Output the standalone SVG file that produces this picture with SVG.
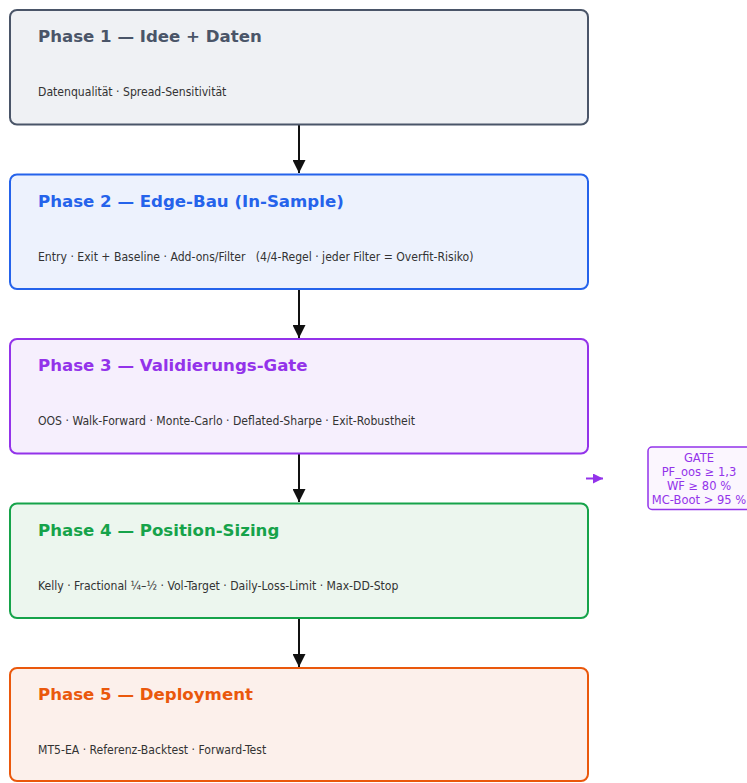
<svg xmlns="http://www.w3.org/2000/svg" width="747" height="783" viewBox="0 0 747 783">
<defs>
<style>
.box{stroke-width:2}
.t{font-family:"DejaVu Sans",sans-serif;font-weight:bold;font-size:16.6px}
.s{font-family:"DejaVu Sans Condensed","DejaVu Sans",sans-serif;font-stretch:condensed;font-size:12.1px;fill:#333}
.g{font-family:"DejaVu Sans",sans-serif;font-size:11.5px;fill:#9333ea;text-anchor:middle}
.c{stroke:#111;stroke-width:2;fill:none}
</style>
<marker id="ah" viewBox="0 0 10 10" refX="10" refY="5" markerWidth="13" markerHeight="13" markerUnits="userSpaceOnUse" orient="auto">
<path d="M0,0 L10,5 L0,10 z" fill="#111"/>
</marker>
<marker id="ahp" viewBox="0 0 10 10" refX="10" refY="5" markerWidth="10" markerHeight="10" markerUnits="userSpaceOnUse" orient="auto">
<path d="M0,0 L10,5 L0,10 z" fill="#9333ea"/>
</marker>
</defs>
<rect width="747" height="783" fill="#fff"/>
<g id="connectors">
<line class="c" x1="299" y1="125" x2="299" y2="173" marker-end="url(#ah)"/>
<line class="c" x1="299" y1="290" x2="299" y2="338" marker-end="url(#ah)"/>
<line class="c" x1="299" y1="454" x2="299" y2="502" marker-end="url(#ah)"/>
<line class="c" x1="299" y1="619" x2="299" y2="667" marker-end="url(#ah)"/>
<line x1="586" y1="478.5" x2="603" y2="478.5" stroke="#9333ea" stroke-width="2" marker-end="url(#ahp)"/>
</g>
<g id="phase1">
<rect class="box" x="10" y="10" width="578" height="114.5" rx="7" fill="#eff1f4" stroke="#4a5568"/>
<text class="t" x="38" y="42" fill="#4a5568">Phase 1 — Idee + Daten</text>
<text class="s" x="38" y="96">Datenqualität · Spread-Sensitivität</text>
</g>
<g id="phase2">
<rect class="box" x="10" y="174.5" width="578" height="114.5" rx="7" fill="#edf2fd" stroke="#2563eb"/>
<text class="t" x="38" y="207" fill="#2563eb">Phase 2 — Edge-Bau (In-Sample)</text>
<text class="s" x="38" y="261" xml:space="preserve">Entry · Exit + Baseline · Add-ons/Filter   (4/4-Regel · jeder Filter = Overfit-Risiko)</text>
</g>
<g id="phase3">
<rect class="box" x="10" y="339" width="578" height="114.5" rx="7" fill="#f6effd" stroke="#9333ea"/>
<text class="t" x="38" y="371" fill="#9333ea">Phase 3 — Validierungs-Gate</text>
<text class="s" x="38" y="425">OOS · Walk-Forward · Monte-Carlo · Deflated-Sharpe · Exit-Robustheit</text>
</g>
<g id="phase4">
<rect class="box" x="10" y="503.5" width="578" height="114.5" rx="7" fill="#ecf6ee" stroke="#16a34a"/>
<text class="t" x="38" y="536" fill="#16a34a">Phase 4 — Position-Sizing</text>
<text class="s" x="38" y="590">Kelly · Fractional ¼–½ · Vol-Target · Daily-Loss-Limit · Max-DD-Stop</text>
</g>
<g id="phase5">
<rect class="box" x="10" y="668" width="578" height="113" rx="7" fill="#fcf0eb" stroke="#ea580c"/>
<text class="t" x="38" y="700" fill="#ea580c">Phase 5 — Deployment</text>
<text class="s" x="38" y="754">MT5-EA · Referenz-Backtest · Forward-Test</text>
</g>
<g id="gate">
<rect x="648" y="447" width="106" height="62.5" rx="4" fill="#fbf6fe" stroke="#9333ea" stroke-width="1.5"/>
<text class="g" x="699" y="462">GATE</text>
<text class="g" x="699" y="476">PF_oos ≥ 1,3</text>
<text class="g" x="699" y="490">WF ≥ 80 %</text>
<text class="g" x="699" y="504">MC-Boot &gt; 95 %</text>
</g>
</svg>
